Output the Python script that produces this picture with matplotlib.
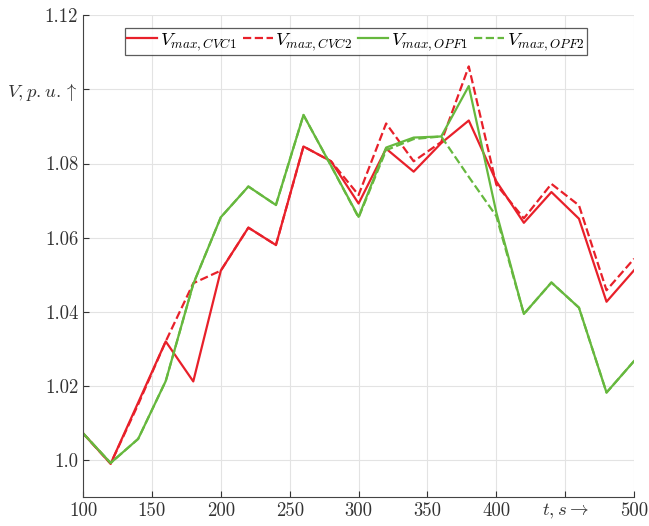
import numpy as np
import matplotlib
matplotlib.use("Agg")
import matplotlib.pyplot as plt

plt.rcParams['font.family'] = 'serif'
plt.rcParams['font.serif'] = ['cmr10']
plt.rcParams['mathtext.fontset'] = 'cm'
plt.rcParams['axes.formatter.use_mathtext'] = True

t = np.arange(100, 501, 20)

v_cvc1 = [1.0072, 0.9990, 1.0155, 1.0320, 1.0212, 1.0511, 1.0627, 1.0580, 1.0846,
          1.0806, 1.0692, 1.0840, 1.0778, 1.0855, 1.0916, 1.0752, 1.0640, 1.0723,
          1.0651, 1.0427, 1.0512]
v_cvc2 = [1.0072, 0.9990, 1.0150, 1.0320, 1.0477, 1.0511, 1.0627, 1.0580, 1.0846,
          1.0806, 1.0715, 1.0908, 1.0806, 1.0858, 1.1062, 1.0743, 1.0652, 1.0745,
          1.0687, 1.0458, 1.0543]
v_opf1 = [1.0072, 0.9992, 1.0057, 1.0213, 1.0475, 1.0655, 1.0738, 1.0688, 1.0931,
          1.0794, 1.0656, 1.0843, 1.0870, 1.0873, 1.1009, 1.0668, 1.0394, 1.0479,
          1.0411, 1.0182, 1.0267]
v_opf2 = [1.0072, 0.9992, 1.0057, 1.0213, 1.0475, 1.0655, 1.0738, 1.0688, 1.0931,
          1.0794, 1.0654, 1.0836, 1.0866, 1.0873, 1.0764, 1.0658, 1.0394, 1.0479,
          1.0411, 1.0182, 1.0267]

xticks = [100, 150, 200, 250, 300, 350, 400, 450, 500]
xlabels = ['100', '150', '200', '250', '300', '350', '400', r'$t, s \rightarrow$', '500']
yticks = [1.0, 1.02, 1.04, 1.06, 1.08, 1.10, 1.12]
ylabels = ['1.0', '1.02', '1.04', '1.06', '1.08', r'$V, p.u. \uparrow$', '1.12']

red = '#e8202a'
green = '#66b83e'

fig = plt.figure(figsize=(6.49, 5.26), dpi=100)
ax = fig.add_axes([0.128, 0.055, 0.849, 0.916])

ax.plot(t, v_cvc1, '-', color=red, lw=1.6, label=r'$V_{max,CVC1}$')
ax.plot(t, v_cvc2, '--', color=red, lw=1.6, label=r'$V_{max,CVC2}$')
ax.plot(t, v_opf1, '-', color=green, lw=1.6, label=r'$V_{max,OPF1}$')
ax.plot(t, v_opf2, '--', color=green, lw=1.6, label=r'$V_{max,OPF2}$')

ax.set_xlim(100, 500)
ax.set_ylim(0.99, 1.12)
ax.set_xticks(xticks)
ax.set_xticklabels(xlabels)
ax.set_yticks(yticks)
ax.set_yticklabels(ylabels)
ax.tick_params(direction='in', labelsize=13.5, colors='#333333', length=4)
ax.grid(True, color='#e3e3e3', lw=0.8)
ax.set_axisbelow(True)
for s in ['top', 'right']:
    ax.spines[s].set_visible(False)
for s in ['left', 'bottom']:
    ax.spines[s].set_color('#444444')

leg = ax.legend(loc='upper center', ncol=4, fontsize=13.5, handlelength=1.6,
                handletextpad=0.15, columnspacing=0.3, borderpad=0.15,
                fancybox=False, bbox_to_anchor=(0.495, 0.993))
leg.get_frame().set_edgecolor('#333333')
leg.get_frame().set_linewidth(0.9)

fig.savefig('out.png', dpi=100)
